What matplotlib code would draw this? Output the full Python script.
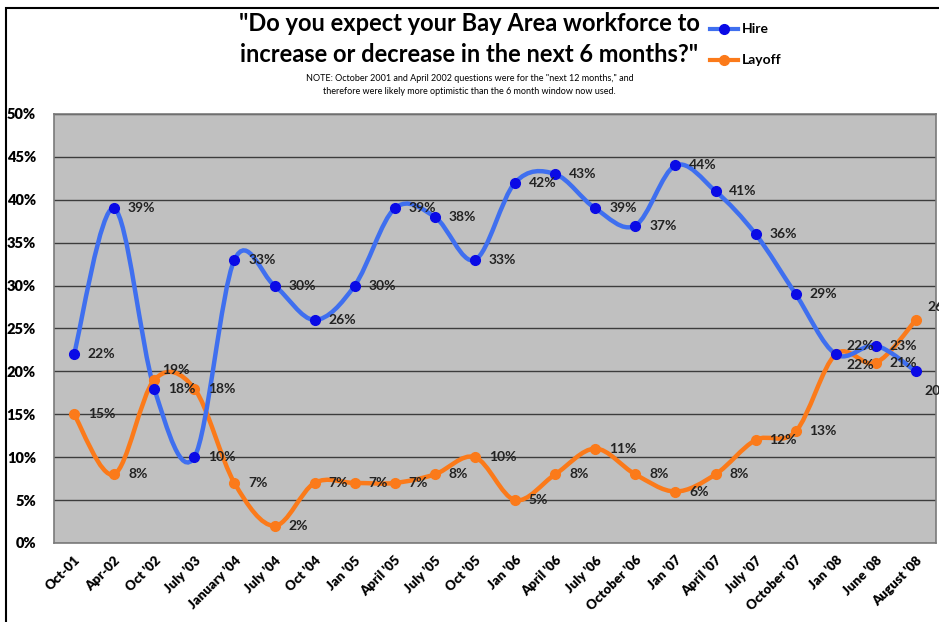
import numpy as np
import matplotlib
matplotlib.use("Agg")
import matplotlib.pyplot as plt
from matplotlib.path import Path
from matplotlib.patches import PathPatch, Rectangle

plt.rcParams['font.family'] = ['Lato', 'DejaVu Sans']

labels = ["Oct-01", "Apr-02", "Oct '02", "July '03", "January '04", "July '04",
          "Oct '04", "Jan '05", "April '05", "July '05", "Oct '05", "Jan '06",
          "April '06", "July '06", "October '06", "Jan '07", "April '07",
          "July '07", "October '07", "Jan '08", "June '08", "August '08"]
hire = [22, 39, 18, 10, 33, 30, 26, 30, 39, 38, 33, 42, 43, 39, 37, 44, 41, 36, 29, 22, 23, 20]
layoff = [15, 8, 19, 18, 7, 2, 7, 7, 7, 8, 10, 5, 8, 11, 8, 6, 8, 12, 13, 22, 21, 26]


def smooth_path(xs, ys):
    # catmull-rom style bezier like excel's smoothed line
    pts = np.column_stack([xs, ys]).astype(float)
    n = len(pts)
    verts = [pts[0]]
    codes = [Path.MOVETO]
    for i in range(n - 1):
        p0 = pts[i - 1] if i > 0 else pts[i]
        p1 = pts[i]
        p2 = pts[i + 1]
        p3 = pts[i + 2] if i + 2 < n else pts[i + 1]
        c1 = p1 + (p2 - p0) / 6.0
        c2 = p2 - (p3 - p1) / 6.0
        verts += [c1, c2, p2]
        codes += [Path.CURVE4] * 3
    return Path(verts, codes)


fig = plt.figure(figsize=(9.39, 6.22), dpi=100)
fig.patches.append(Rectangle((6 / 939, -0.1), 1.2, 1 - 8 / 622 + 0.1, transform=fig.transFigure,
                             fill=False, edgecolor='black', linewidth=1.5))
ax = fig.add_axes([54 / 939, 79 / 622, 882 / 939, 429 / 622])
ax.set_facecolor('#c0c0c0')
x = np.arange(len(labels))

hire_line = '#3f6fef'
hire_dot = '#0a0ae6'
orange = '#fb7a1a'

ax.add_patch(PathPatch(smooth_path(x, layoff), fill=False, edgecolor=orange, lw=3.2, zorder=3))
ax.add_patch(PathPatch(smooth_path(x, hire), fill=False, edgecolor=hire_line, lw=3.2, zorder=3))
ax.plot(x, layoff, 'o', color=orange, ms=7, zorder=4)
ax.plot(x, hire, 'o', color=hire_dot, ms=7, zorder=5)

ax.set_xlim(-0.5, 21.5)
ax.set_ylim(0, 50)
ax.set_yticks(range(0, 51, 5))
ax.set_yticklabels([f"{v}%" for v in range(0, 51, 5)], fontsize=10.5, fontweight='heavy')
ax.set_xticks(x)
ax.set_xticklabels(labels, rotation=45, ha='right', rotation_mode='anchor', fontsize=9.5,
                   fontweight='heavy')
ax.tick_params(length=0, pad=8)
ax.tick_params(axis='y', pad=13)
ax.grid(axis='y', color='#3c3c3c', lw=1)
ax.set_axisbelow(True)
for s in ax.spines.values():
    s.set_color('#7a7a7a')
    s.set_linewidth(1.2)

# label offsets in points (dx, dy)
hire_off = {19: (8, 6), 21: (6, -14)}
layoff_off = {2: (6, 7), 19: (8, -8), 21: (8, 9)}
for i, v in enumerate(hire):
    dx, dy = hire_off.get(i, (10, 0))
    ax.annotate(f"{v}%", (i, v), xytext=(dx, dy), textcoords='offset points',
                va='center', ha='left', fontsize=10, fontweight='bold', color='#222222', zorder=6,
                annotation_clip=False)
for i, v in enumerate(layoff):
    dx, dy = layoff_off.get(i, (10, 0))
    ax.annotate(f"{v}%", (i, v), xytext=(dx, dy), textcoords='offset points',
                va='center', ha='left', fontsize=10, fontweight='bold', color='#222222', zorder=6,
                annotation_clip=False)

fig.text(0.5, 0.962, '"Do you expect your Bay Area workforce to', ha='center', va='center',
         fontsize=17, fontweight='bold')
fig.text(0.5, 0.913, 'increase or decrease in the next 6 months?"', ha='center', va='center',
         fontsize=17, fontweight='bold')
fig.text(0.5, 0.873, 'NOTE: October 2001 and April 2002 questions were for the "next 12 months," and',
         ha='center', va='center', fontsize=6.5)
fig.text(0.5, 0.853, 'therefore were likely more optimistic than the 6 month window now used.',
         ha='center', va='center', fontsize=6.5)

# legend
for yy, name, lc, mc in [(0.953, 'Hire', hire_line, hire_dot), (0.903, 'Layoff', orange, orange)]:
    fig.lines.append(plt.Line2D([710 / 939, 738 / 939], [yy, yy], transform=fig.transFigure,
                                color=lc, lw=3))
    fig.lines.append(plt.Line2D([724 / 939], [yy], transform=fig.transFigure, marker='o',
                                color=mc, ms=7))
    fig.text(742 / 939, yy, name, ha='left', va='center', fontsize=10, fontweight='bold')

fig.savefig('out.png', dpi=100)
